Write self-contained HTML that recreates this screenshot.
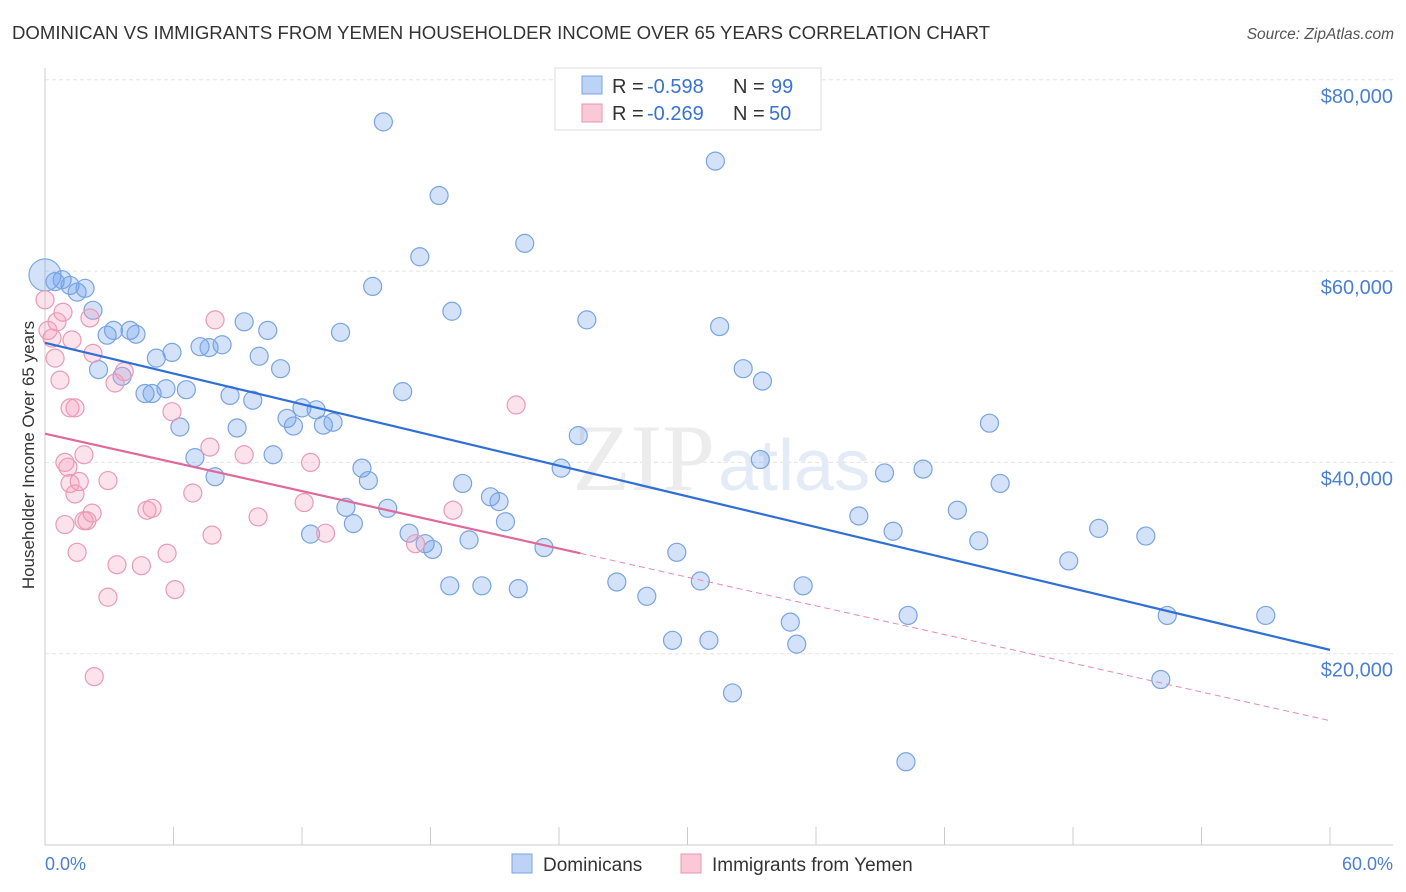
<!DOCTYPE html>
<html><head><meta charset="utf-8"><style>
body{margin:0;background:#fff;font-family:"Liberation Sans",sans-serif;}
svg{display:block}
</style></head><body>
<svg id="c" width="1406" height="892">
<text x="12" y="39" font-size="18.6" fill="#333">DOMINICAN VS IMMIGRANTS FROM YEMEN HOUSEHOLDER INCOME OVER 65 YEARS CORRELATION CHART</text>
<text x="1394" y="39" font-size="15.5" fill="#555" font-style="italic" text-anchor="end">Source: ZipAtlas.com</text>
<g id="grid"></g>
<text x="715" y="490" font-size="95" fill="#ececec" text-anchor="end" font-family="Liberation Serif">ZIP</text>
<text x="718" y="490" font-size="72" fill="#e3ebf6">atlas</text>
<g id="pts"></g>
<g id="lines"></g>
<text transform="translate(34,455) rotate(-90)" font-size="17" fill="#333" text-anchor="middle">Householder Income Over 65 years</text>
<text x="45" y="870" font-size="18" fill="#4a7fd4">0.0%</text>
<text x="1393" y="870" font-size="18" fill="#4a7fd4" text-anchor="end">60.0%</text>
<g>
<rect x="555" y="68" width="266" height="62" fill="#fff" stroke="#ddd"/>
<rect x="582" y="76" width="20" height="18" fill="#bcd3f5" stroke="#7aa6e0"/>
<rect x="582" y="104" width="20" height="18" fill="#f9c9d8" stroke="#e895b0"/>
<text x="612" y="93" font-size="20" fill="#333">R =</text>
<text x="647" y="93" font-size="20" fill="#3a72d0">-0.598</text>
<text x="733" y="93" font-size="20" fill="#333">N =</text>
<text x="771" y="93" font-size="20" fill="#3a72d0">99</text>
<text x="612" y="120" font-size="20" fill="#333">R =</text>
<text x="647" y="120" font-size="20" fill="#3a72d0">-0.269</text>
<text x="733" y="120" font-size="20" fill="#333">N =</text>
<text x="769" y="120" font-size="20" fill="#3a72d0">50</text>
</g>
<g>
<rect x="512" y="854" width="20" height="19" fill="#bcd3f5" stroke="#7aa6e0"/>
<text x="543" y="871" font-size="19" fill="#333">Dominicans</text>
<rect x="681" y="854" width="20" height="19" fill="#f9c9d8" stroke="#e895b0"/>
<text x="712" y="871" font-size="19" fill="#333">Immigrants from Yemen</text>
</g>
</svg>
<script>
const yTicks=[20000,40000,60000,80000];
const yTickLabels=["$20,000","$40,000","$60,000","$80,000"];
const xTicks=[0,6,12,18,24,30,36,42,48,54,60];
const blueX=[0,0.47,0.8,1.17,1.5,1.87,2.24,2.5,2.9,3.2,3.6,3.97,4.25,4.67,5.0,5.2,5.65,5.93,6.3,6.6,7.0,7.24,7.66,7.94,8.27,8.64,8.97,9.3,9.7,10.0,10.4,10.65,11.0,11.3,11.6,12.0,12.4,12.66,13.0,13.45,13.8,14.05,14.4,14.8,15.1,15.3,15.8,16.0,16.7,17.0,17.5,17.75,18.1,18.4,18.9,19.0,19.5,19.8,20.4,20.8,21.2,21.5,22.1,22.4,23.3,24.1,24.9,25.3,26.7,28.1,29.3,29.5,30.6,31.0,31.3,31.5,32.1,32.6,33.4,33.5,34.8,35.1,35.4,38.0,39.2,39.6,40.2,40.3,41.0,42.6,43.6,44.1,44.6,47.8,49.2,51.4,52.1,52.4,57.0];
const blueY=[59.6,58.9,59.1,58.5,57.8,58.2,55.9,49.7,53.3,53.8,49.0,53.8,53.4,47.2,47.2,50.9,47.7,51.5,43.7,47.6,40.5,52.1,52.0,38.5,52.3,47.0,43.6,54.7,46.5,51.1,53.8,40.8,49.8,44.6,43.8,45.7,32.5,45.5,43.9,44.2,53.6,35.3,33.6,39.4,38.1,58.4,75.6,35.2,47.4,32.6,61.5,31.5,30.9,67.9,27.1,55.8,37.8,31.9,27.1,36.4,35.9,33.8,26.8,62.9,31.1,39.4,42.8,54.9,27.5,26.0,21.4,30.6,27.6,21.4,71.5,54.2,15.9,49.8,40.3,48.5,23.3,21.0,27.1,34.4,38.9,32.8,8.7,24.0,39.3,35.0,31.8,44.1,37.8,29.7,33.1,32.3,17.3,24.0,24.0];
const pinkX=[0,0.14,0.33,0.47,0.56,0.7,0.84,0.93,1.07,1.17,1.26,1.4,1.17,1.4,0.93,1.5,1.6,1.82,1.82,1.96,2.1,2.2,2.24,2.3,2.94,2.94,3.27,3.36,3.7,4.76,5.0,4.5,5.7,5.93,6.07,6.9,7.7,7.8,7.94,9.3,9.95,12.1,12.4,13.1,17.3,19.05,22.0];
const pinkY=[57.0,53.8,53.0,50.9,54.7,48.6,55.7,40.0,39.5,45.7,52.8,45.7,37.8,36.7,33.5,30.6,38.0,40.8,33.9,33.9,55.1,34.7,51.4,17.6,38.1,25.9,48.3,29.3,49.5,35.0,35.2,29.2,30.5,45.3,26.7,36.8,41.6,32.4,54.9,40.8,34.3,35.8,40.0,32.6,31.5,35.0,46.0];
const blueTrend=[[0,52.5],[60,20.4]];
const pinkTrend=[[0,43.0],[25,30.5],[60,13.0]];
const X=v=>45+v/60*1285, Y=v=>845-v/20*191.3;
const NS="http://www.w3.org/2000/svg";
function mk(t,a,p){const e=document.createElementNS(NS,t);for(const k in a)e.setAttribute(k,a[k]);p.appendChild(e);return e;}
const g=document.getElementById('grid');
yTicks.forEach((t,i)=>{
 const l=mk('line',{x1:45,x2:1393,y1:Y(t/1000),y2:Y(t/1000),stroke:'#e4e4e4','stroke-dasharray':'4,3'},g);
 
 
 const tx=mk('text',{x:1393,y:Y(t/1000)+23,'font-size':20,fill:'#4a7fd4','text-anchor':'end'},g);
 tx.textContent=yTickLabels[i];
 
 
});
const ax=mk('line',{x1:45,x2:45,y1:68,y2:845,stroke:'#ccc'},g);


const bx=mk('line',{x1:45,x2:1393,y1:845,y2:845,stroke:'#ccc'},g);


xTicks.forEach(t=>{
 const l=mk('line',{x1:X(t),x2:X(t),y1:827,y2:845,stroke:'#ccc'},g);
 
 
});
const p=document.getElementById('pts');
blueX.forEach((v,i)=>{
 const c=mk('circle',{cx:X(v),cy:Y(blueY[i]),r:i==0?16:9,fill:'rgba(110,160,235,0.3)',stroke:'#78a4e2','stroke-width':1.2},p);
 
 
});
pinkX.forEach((v,i)=>{
 const c=mk('circle',{cx:X(v),cy:Y(pinkY[i]),r:9,fill:'rgba(245,160,190,0.3)',stroke:'#ea9ab5','stroke-width':1.2},p);
 
 
});
const L=document.getElementById('lines');
const b=mk('line',{x1:X(blueTrend[0][0]),y1:Y(blueTrend[0][1]),x2:X(blueTrend[1][0]),y2:Y(blueTrend[1][1]),stroke:'#2f6fd6','stroke-width':2.2},L);


const pk=mk('line',{x1:X(pinkTrend[0][0]),y1:Y(pinkTrend[0][1]),x2:X(pinkTrend[1][0]),y2:Y(pinkTrend[1][1]),stroke:'#e0689a','stroke-width':2.2},L);


const pd=mk('line',{x1:X(pinkTrend[1][0]),y1:Y(pinkTrend[1][1]),x2:X(pinkTrend[2][0]),y2:Y(pinkTrend[2][1]),stroke:'#e88aae','stroke-width':1,'stroke-dasharray':'6,4'},L);


</script>
</body></html>
